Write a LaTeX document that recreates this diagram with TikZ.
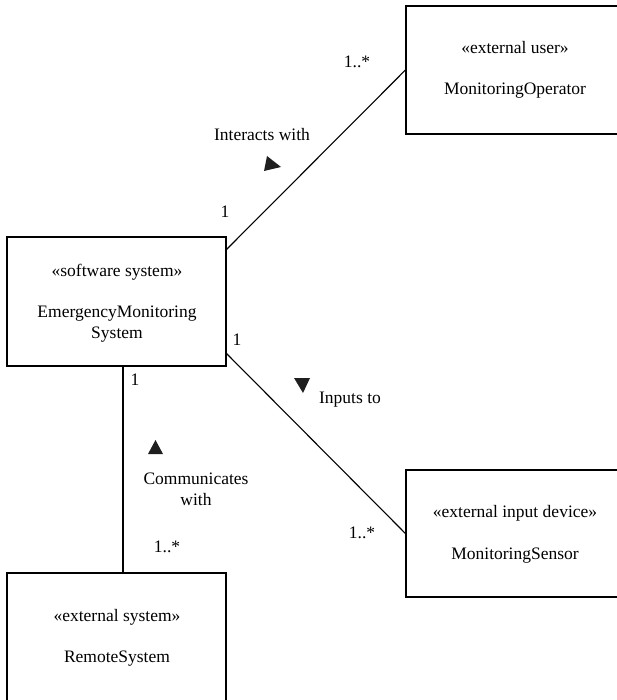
\documentclass[tikz,border=0pt]{standalone}
\usepackage{fontspec}
\setmainfont{Liberation Serif}
\usetikzlibrary{calc}
\begin{document}
\begin{tikzpicture}[x=1pt,y=-1pt,
  box/.style={draw, line width=1.1pt, rectangle, inner sep=0pt},
  lbl/.style={font=\fontsize{17.5}{21}\selectfont, inner sep=0pt, align=center},
  conn/.style={line width=1.1pt},
  tri/.style={fill=black!88}]
\useasboundingbox (0,0) rectangle (616,700);
% boxes
\node[box, minimum width=219pt, minimum height=129pt] (ems) at (116.5,301.5) {};
\node[box, minimum width=216pt, minimum height=128pt] (mo) at (514,70) {};
\node[box, minimum width=216pt, minimum height=127pt] (ms) at (514,533.5) {};
\node[box, minimum width=219pt, minimum height=132pt] (rs) at (116.5,639) {};
% box texts
\node[lbl] (emsst) at (117,272) {«software system»};
\node[lbl] (emsnm) at (117,324.5) {EmergencyMonitoring\\System};
\node[lbl] (most) at (515,48) {«external user»};
\node[lbl] (monm) at (515,91) {MonitoringOperator};
\node[lbl] (msst) at (515,513) {«external input device»};
\node[lbl] (msnm) at (515,556) {MonitoringSensor};
\node[lbl] (rsst) at (117,617) {«external system»};
\node[lbl] (rsnm) at (117,659) {RemoteSystem};
% connector endpoints
\coordinate (emsA) at ($(ems.north east)+(0,13)$);
\coordinate (emsB) at ($(ems.south east)+(0,-13)$);
\coordinate (emsC) at ($(ems.south)+(6.5,0)$);
\coordinate (rsC) at ($(rs.north)+(6.5,0)$);
\draw[conn] (emsA) -- (mo.west);
\draw[conn] (emsB) -- (ms.west);
\draw[conn] (emsC) -- (rsC);
% association labels
\node[lbl] (m1) at (225,212) {1};
\node[lbl] (m2) at (357,62) {1..*};
\node[lbl] (ia) at (262,135) {Interacts with};
\fill[tri] (267,156) -- (264,171) -- (281,167) -- cycle;
\node[lbl] (m3) at (237,340) {1};
\node[lbl] (m4) at (362,533) {1..*};
\node[lbl] (it) at (350,400) {Inputs to};
\fill[tri] (294,378) -- (310,378) -- (303,393) -- cycle;
\node[lbl] (m5) at (135,380) {1};
\node[lbl] (m6) at (167,547) {1..*};
\node[lbl] (cw) at (196,489) {Communicates\\with};
\fill[tri] (155.5,440) -- (148,454) -- (163,454) -- cycle;
\end{tikzpicture}
\end{document}
